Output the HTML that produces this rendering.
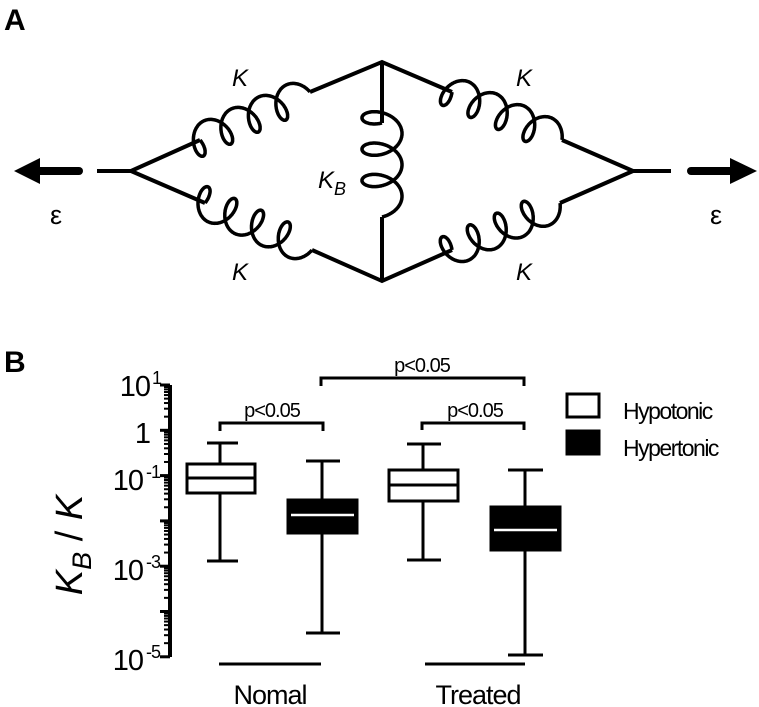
<!DOCTYPE html>
<html><head><meta charset="utf-8"><style>
html,body{margin:0;padding:0;background:#fff;}
svg{display:block;font-family:"Liberation Sans",Arial,sans-serif;}
</style></head><body>
<svg id="s" width="759" height="707" viewBox="0 0 759 707" xmlns="http://www.w3.org/2000/svg">
<g fill="none" stroke="#000" stroke-width="4" stroke-linecap="butt" stroke-linejoin="miter">
<polyline points="97,171 131,171 200,140"/>
<polyline points="310,92 382,62 452,92"/>
<polyline points="131,171 205,203"/>
<polyline points="312,250 382,281 452,250"/>
<polyline points="562,140 633,171 671,171"/>
<polyline points="633,171 560,203"/>
<line x1="382" y1="62" x2="382" y2="123"/>
<line x1="382" y1="217" x2="382" y2="281"/>
<line x1="40" y1="171" x2="79" y2="171" stroke-width="8" stroke-linecap="round"/>
<line x1="691" y1="171" x2="730" y2="171" stroke-width="8" stroke-linecap="round"/>
<g id="springs" stroke-width="3.5"></g>
</g>
<polygon points="14,171 40,158 40,184" fill="#000"/>
<polygon points="757,171 730,158 730,184" fill="#000"/>
<text x="4" y="30" font-size="30" font-weight="bold">A</text>
<g font-size="24" font-style="italic">
<text x="232" y="86">K</text><text x="232" y="280">K</text>
<text x="516" y="86">K</text><text x="516" y="280">K</text>
<text x="318" y="188">K<tspan font-size="18" dy="7">B</tspan></text>
</g>
<text x="50" y="224" font-size="27">ε</text>
<text x="710" y="224" font-size="27">ε</text>

<text x="4" y="372" font-size="30" font-weight="bold">B</text>
<g stroke="#000" stroke-width="3" fill="none" id="axis">
<line x1="170" y1="385" x2="170" y2="657" stroke-width="4"/>
</g>
<g font-size="29" text-anchor="end" letter-spacing="-1">
<text x="150" y="396">10</text><text x="161" y="384" font-size="18">1</text>
<text x="150" y="443">1</text>
<text x="143" y="490">10</text><text x="160" y="478" font-size="18">-1</text>
<text x="143" y="580">10</text><text x="160" y="568" font-size="18">-3</text>
<text x="143" y="670">10</text><text x="160" y="658" font-size="18">-5</text>
</g>
<text transform="translate(82,545) rotate(-90)" font-size="38" font-style="italic" text-anchor="middle">K<tspan font-size="27" dy="9">B</tspan><tspan dy="-9" font-style="normal"> / </tspan>K</text>

<g stroke="#000" stroke-width="3" fill="none">
<line x1="220" y1="443" x2="220" y2="561"/>
<line x1="207" y1="443" x2="238" y2="443"/>
<line x1="207" y1="561" x2="238" y2="561"/>
<rect x="187" y="464" width="68" height="29" fill="#fff"/>
<line x1="187" y1="478" x2="255" y2="478"/>
<line x1="322" y1="461" x2="322" y2="633"/>
<line x1="306" y1="461" x2="340" y2="461"/>
<line x1="306" y1="633" x2="340" y2="633"/>
<rect x="288" y="500" width="69" height="33" fill="#000"/>
<line x1="291" y1="515" x2="354" y2="515" stroke="#fff" stroke-width="2.5"/>
<line x1="423" y1="444" x2="423" y2="560"/>
<line x1="407" y1="444" x2="441" y2="444"/>
<line x1="407" y1="560" x2="441" y2="560"/>
<rect x="389" y="470" width="69" height="31" fill="#fff"/>
<line x1="389" y1="485" x2="458" y2="485"/>
<line x1="525" y1="470" x2="525" y2="655"/>
<line x1="508" y1="470" x2="543" y2="470"/>
<line x1="508" y1="655" x2="543" y2="655"/>
<rect x="491" y="507" width="69" height="43" fill="#000"/>
<line x1="494" y1="530" x2="557" y2="530" stroke="#fff" stroke-width="2.5"/>
<polyline points="220,431 220,423 323,423 323,431"/>
<polyline points="321,386 321,378 524,378 524,386"/>
<polyline points="422,430 422,423 524,423 524,430"/>
<line x1="219" y1="664" x2="321" y2="664"/>
<line x1="425" y1="664" x2="525" y2="664"/>
<rect x="567" y="394" width="32" height="23" fill="#fff"/>
<rect x="567" y="431" width="32" height="23" fill="#000"/>
</g>
<g font-size="20" text-anchor="middle" letter-spacing="-1">
<text x="272" y="417">p&lt;0.05</text>
<text x="422" y="372">p&lt;0.05</text>
<text x="475" y="417">p&lt;0.05</text>
</g>
<g font-size="23" letter-spacing="-1.5">
<text x="623" y="419">Hypotonic</text>
<text x="623" y="456">Hypertonic</text>
</g>
<g font-size="27" text-anchor="middle" letter-spacing="-1">
<text x="270" y="704">Nomal</text>
<text x="478" y="704">Treated</text>
</g>
</svg>
<script>
(function(){
var NS="http://www.w3.org/2000/svg";
function spring(x0,y0,x1,y1,n,amp,e,flip){
  var dx=x1-x0,dy=y1-y0,L=Math.sqrt(dx*dx+dy*dy),ux=dx/L,uy=dy/L,px=-uy*flip,py=ux*flip;
  var r=L/(2*Math.PI*n),pts=[];
  for(var i=0;i<=800;i++){
    var t=2*Math.PI*n*i/800;
    var b = amp*Math.sin(t);
    var a = r*t - e*(1-Math.cos(t));
    if(i==800) a=L;
    pts.push((x0+ux*a+px*b).toFixed(1)+","+(y0+uy*a+py*b).toFixed(1));
  }
  var p=document.createElementNS(NS,"polyline");
  p.setAttribute("points",pts.join(" "));
  document.getElementById("springs").appendChild(p);
}
function axis(){
  var g=document.getElementById("axis");
  for(var d=1;d>=-5;d--){
    var y=385+(1-d)*45.3;
    var l=document.createElementNS(NS,"line");
    l.setAttribute("x1",160);l.setAttribute("x2",170);l.setAttribute("y1",y);l.setAttribute("y2",y);g.appendChild(l);
    if(d>-5){for(var k=2;k<10;k++){
      var yy=y+45.3*(1-Math.log10(k));
      var m=document.createElementNS(NS,"line");
      m.setAttribute("x1",164);m.setAttribute("x2",170);m.setAttribute("y1",yy);m.setAttribute("y2",yy);m.setAttribute("stroke-width","2");g.appendChild(m);
    }}
  }
}
axis();
spring(200,140,310,92,4,16,11,1);
spring(205,203,312,250,4,16,11,-1);
spring(452,92,562,140,4,16,11,1);
spring(452,250,560,203,4,16,11,-1);
spring(382,123,382,217,3,20,13,1);
})();
</script>
</body></html>
